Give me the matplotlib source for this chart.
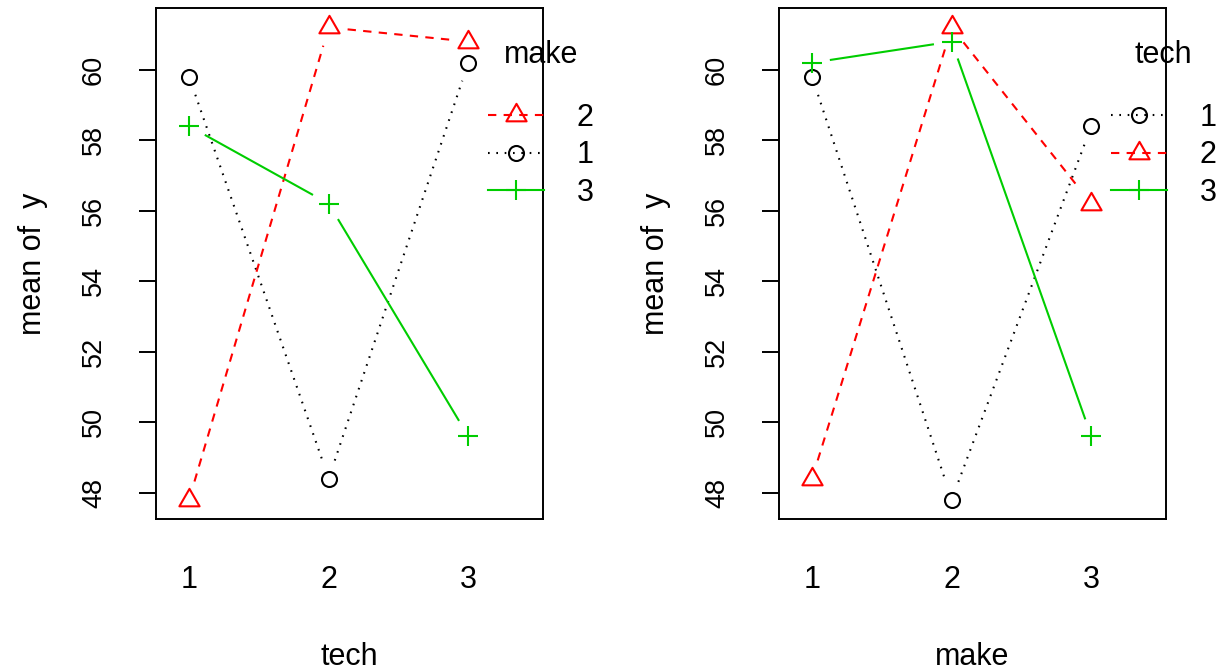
import numpy as np
import matplotlib
matplotlib.use('Agg')
import matplotlib.pyplot as plt
from matplotlib.lines import Line2D
from matplotlib.path import Path

plt.rcParams['font.family'] = ['Liberation Sans', 'DejaVu Sans']

tech_levels = ['1', '2', '3']
make_levels = ['1', '2', '3']

# mean of y, rows = tech, columns = make
mean_y = np.array([
    [59.8, 47.8, 58.4],
    [48.4, 61.2, 56.2],
    [60.2, 60.8, 49.6],
])

# trace styles (R: col 1:3, pch 1:3)
triangle = Path([(0, 1), (-0.866, -0.5), (0.866, -0.5), (0, 1)],
                [Path.MOVETO, Path.LINETO, Path.LINETO, Path.CLOSEPOLY])
colors = ['black', '#FF0000', '#00CD00']
dash_styles = [(0, (0.8, 3.2)), (0, (4, 3.5)), 'solid']
markers = ['o', triangle, '+']
marker_sizes = [10.8, 16.8, 15]

GAP_PX = 19   # gap between line ends and points (type = "b")
LW = 1.5


def gapped_line(ax, xs, ys, **kw):
    # draw segments between points, leaving a gap round each point
    pts = ax.transData.transform(np.column_stack([xs, ys]))
    inv = ax.transData.inverted()
    for p, q in zip(pts[:-1], pts[1:]):
        d = q - p
        length = np.hypot(d[0], d[1])
        if length <= 2 * GAP_PX:
            continue
        u = d / length
        seg = inv.transform([p + u * GAP_PX, q - u * GAP_PX])
        ax.plot(seg[:, 0], seg[:, 1], **kw)


def interaction_panel(ax, x_levels, trace_levels, table, xlab, trace_name):
    ax.set_xlim(0.763, 3.535)
    ax.set_ylim(47.253, 61.752)
    xs = np.arange(1, len(x_levels) + 1)

    for j in range(len(trace_levels)):
        gapped_line(ax, xs, table[:, j], color=colors[j], linestyle=dash_styles[j],
                    lw=LW, dash_capstyle='butt')
        ax.plot(xs, table[:, j], linestyle='none', marker=markers[j],
                ms=marker_sizes[j], mfc='none', mec=colors[j], mew=LW)

    ax.set_xticks(xs)
    ax.set_xticklabels(x_levels)
    ax.tick_params(axis='x', length=0, pad=33, labelsize=22)
    ax.set_yticks(np.arange(48, 61, 2))
    ax.tick_params(axis='y', length=12.2, width=1.4, pad=23, labelsize=19.5)
    for lab in ax.get_yticklabels():
        lab.set_rotation(90)
        lab.set_va('center')

    for s in ax.spines.values():
        s.set_linewidth(1.4)

    ax.set_xlabel(xlab, fontsize=22)
    ax.xaxis.set_label_coords(0.5, -0.27)
    ax.xaxis.label.set_va('center')
    ax.set_ylabel('mean of  y', fontsize=22, va='center')
    ax.yaxis.set_label_coords(-0.318, 0.5)

    # legend ordered by the value at the last x level, largest first
    order = np.argsort(-table[-1, :], kind='stable')
    handles = [Line2D([], [], color=colors[j], linestyle=dash_styles[j], lw=LW,
                      marker=markers[j], ms=marker_sizes[j], mfc='none', mew=LW,
                      dash_capstyle='butt') for j in order]
    labels = [trace_levels[j] for j in order]
    leg = ax.legend(handles, labels, title=trace_name, loc='upper left',
                    bbox_to_anchor=(0.858, 0.937), frameon=False, fontsize=22,
                    title_fontsize=22, handlelength=1.84, handletextpad=1.05,
                    labelspacing=0.25, borderpad=0, borderaxespad=0)
    leg._legend_box.sep = 23.5   # space between title and entries
    leg.set_clip_on(False)


fig = plt.figure(figsize=(12.25, 6.7), dpi=100)
ax1 = fig.add_axes([156 / 1225, 151 / 670, 387 / 1225, 511 / 670])
ax2 = fig.add_axes([779 / 1225, 151 / 670, 387 / 1225, 511 / 670])

interaction_panel(ax1, tech_levels, make_levels, mean_y, 'tech', 'make')
interaction_panel(ax2, make_levels, tech_levels, mean_y.T, 'make', 'tech')

fig.savefig('out.png', dpi=100)
